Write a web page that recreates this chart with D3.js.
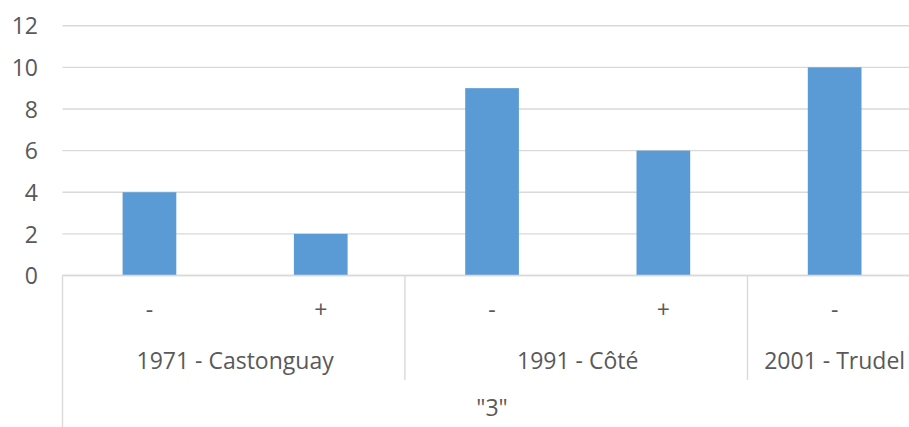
<!DOCTYPE html>
<html>
<head>
<meta charset="utf-8">
<script src="https://cdn.jsdelivr.net/npm/d3@7/dist/d3.min.js"></script>
<style>
  html, body { margin: 0; padding: 0; background: #ffffff; }
  svg { display: block; }
  text { font-family: "Open Sans", "Noto Sans", sans-serif; fill: #595959; }
</style>
</head>
<body>
<svg id="chart" width="909" height="427"></svg>
<script>
// Category hierarchy: sign under each group, groups under "3"
const signs = ["-", "+", "-", "+", "-"];
const groups = ["1971 - Castonguay", "1971 - Castonguay", "1991 - Côté", "1991 - Côté", "2001 - Trudel"];
const topLabel = "\"3\"";
const values = [4, 2, 9, 6, 10];
const yTicks = [0, 2, 4, 6, 8, 10, 12];

const svg = d3.select("#chart");
const W = 909, H = 427;

const axisLeft = 62.5;
const plotLeft = 63.8, step = 171.3;
const keys = values.map((d, i) => i);
const x = d3.scaleBand()
  .domain(keys)
  .range([plotLeft, plotLeft + step * keys.length])
  .padding(0);
const y = d3.scaleLinear().domain([0, 12]).range([275.5, 25.7]);

const barFrac = 1 / (1 + 2.19); // column width relative to category width
const gridColor = "#d9d9d9";

// Horizontal gridlines
svg.append("g")
  .selectAll("line")
  .data(yTicks)
  .join("line")
  .attr("x1", axisLeft).attr("x2", W)
  .attr("y1", d => y(d)).attr("y2", d => y(d))
  .attr("stroke", gridColor).attr("stroke-width", 1.4);

// Value axis labels
const yAxis = d3.axisLeft(y).tickValues(yTicks).tickSize(0).tickPadding(0).tickFormat(d3.format("d"));
const gy = svg.append("g").attr("transform", "translate(38,0)").call(yAxis);
gy.select(".domain").remove();
gy.selectAll("text")
  .attr("font-family", "Open Sans, Noto Sans, sans-serif")
  .attr("font-size", 23)
  .attr("fill", "#595959")
  .attr("dy", "0.36em");

// Columns
svg.append("g")
  .selectAll("rect")
  .data(values)
  .join("rect")
  .attr("x", (d, i) => x(i) + x.bandwidth() * (1 - barFrac) / 2)
  .attr("width", x.bandwidth() * barFrac)
  .attr("y", d => y(d))
  .attr("height", d => y(0) - y(d))
  .attr("fill", "#5b9bd5");

// Multi-level category axis
const axisY = y(0);
const axisG = svg.append("g");
axisG.append("line")
  .attr("x1", axisLeft).attr("x2", W)
  .attr("y1", axisY).attr("y2", axisY)
  .attr("stroke", gridColor).attr("stroke-width", 1.6);

// Outer left border spans every level
axisG.append("line")
  .attr("x1", axisLeft).attr("x2", axisLeft)
  .attr("y1", axisY).attr("y2", H)
  .attr("stroke", gridColor).attr("stroke-width", 1.4);

// Group boundaries
const groupSpans = [];
groups.forEach((g, i) => {
  const last = groupSpans[groupSpans.length - 1];
  if (last && last.name === g) last.end = i;
  else groupSpans.push({ name: g, start: i, end: i });
});
axisG.selectAll("line.sep")
  .data(groupSpans.slice(1))
  .join("line")
  .attr("class", "sep")
  .attr("x1", d => x(d.start) - 1.5).attr("x2", d => x(d.start) - 1.5)
  .attr("y1", axisY).attr("y2", 380)
  .attr("stroke", gridColor).attr("stroke-width", 1.4);

// Sign labels
axisG.selectAll("text.sign")
  .data(signs)
  .join("text")
  .attr("class", "sign")
  .attr("x", (d, i) => x(i) + x.bandwidth() / 2)
  .attr("y", 310)
  .attr("dy", "0.36em")
  .attr("text-anchor", "middle")
  .attr("font-size", 23)
  .text(d => d);

// Group labels
axisG.selectAll("text.group")
  .data(groupSpans)
  .join("text")
  .attr("class", "group")
  .attr("x", d => (x(d.start) + x(d.end) + x.bandwidth()) / 2)
  .attr("y", 361)
  .attr("dy", "0.36em")
  .attr("text-anchor", "middle")
  .attr("font-size", 23)
  .text(d => d.name);

// Top level label
axisG.append("text")
  .attr("x", (x.range()[0] + x.range()[1]) / 2)
  .attr("y", 408)
  .attr("dy", "0.36em")
  .attr("text-anchor", "middle")
  .attr("font-size", 23)
  .text(topLabel);
</script>
</body>
</html>
